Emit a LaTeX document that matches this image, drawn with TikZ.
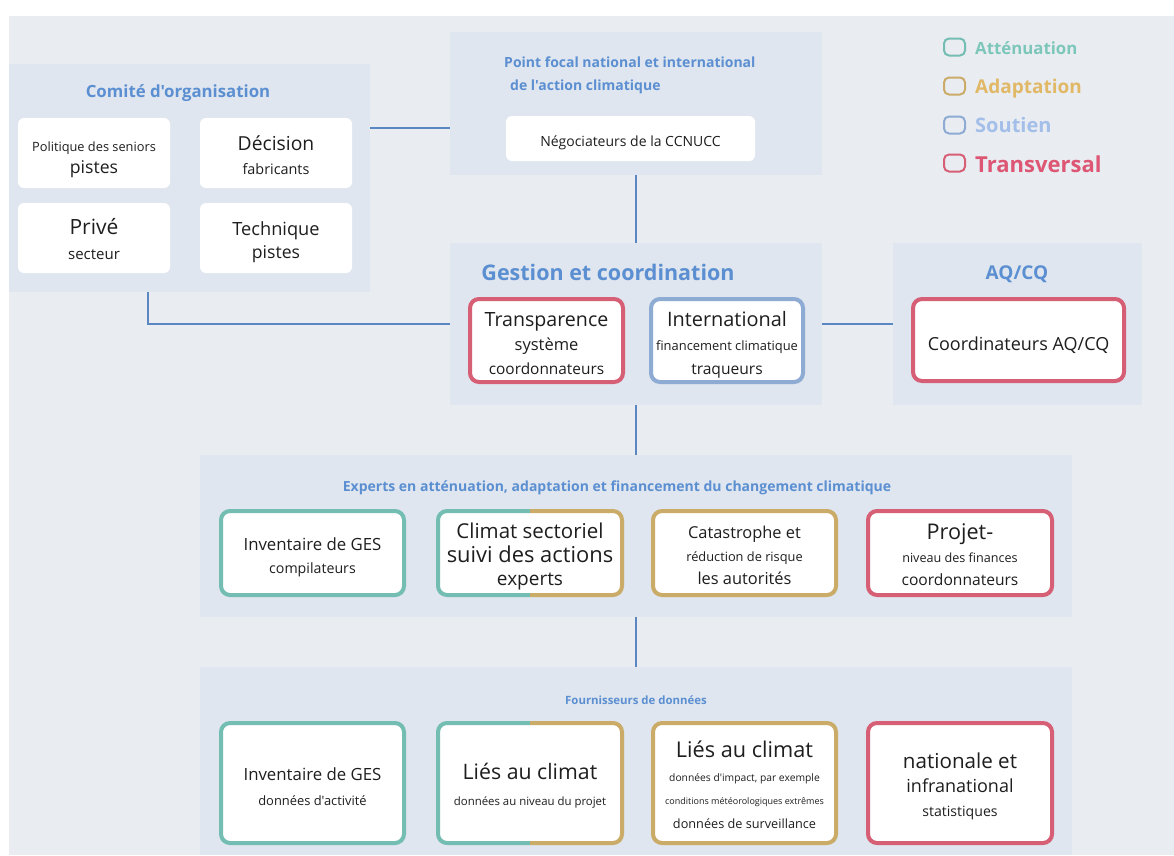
\documentclass[tikz,border=0pt]{standalone}
\usepackage{fontspec}
\setmainfont{Open Sans}
\newfontfamily\osf{Open Sans}
\usetikzlibrary{calc}
\definecolor{bgout}{HTML}{E9EDF2}
\definecolor{panelc}{HTML}{DFE6EF}
\definecolor{titleblue}{HTML}{5B8FD1}
\definecolor{linec}{HTML}{5A87C2}
\definecolor{cteal}{HTML}{74BDB2}
\definecolor{cgold}{HTML}{CBAB68}
\definecolor{cblue}{HTML}{8EABD3}
\definecolor{cred}{HTML}{D65F76}
\definecolor{lteal}{HTML}{7DC6BA}
\definecolor{lgold}{HTML}{E1B866}
\definecolor{lblue}{HTML}{A3BFE9}
\definecolor{lred}{HTML}{DD5673}
\definecolor{textc}{HTML}{1E1E1E}
\newcommand\txs[2]{{\fontsize{#1}{#1}\selectfont #2}}
\tikzset{
  panel/.style={fill=panelc, draw=none, inner sep=0pt, outer sep=0pt, rectangle},
  ptitle/.style={text=titleblue, font=\bfseries, inner sep=0pt},
  wbox/.style={fill=white, rounded corners=6pt, inner sep=0pt, outer sep=0pt},
  bbox/.style={wbox, line width=4pt, rounded corners=9pt},
  btxt/.style={align=center, text=textc, inner sep=0pt, font=\fontsize{12}{24}\selectfont},
  conn/.style={draw=linec, line width=2pt},
  legsq/.style={draw=#1, line width=2pt, rounded corners=5pt, minimum width=21pt, minimum height=17pt, inner sep=0pt},
  legtx/.style={text=#1, font=\bfseries, anchor=west, inner sep=0pt},
}
\begin{document}
\osf
\begin{tikzpicture}[x=1pt,y=-1pt]
\useasboundingbox (0,0) rectangle (1174,855);
\fill[white] (0,0) rectangle (1174,855);
\fill[bgout] (9,16) rectangle (1174,855);

% panels
\node[panel, minimum width=361pt, minimum height=228pt] (comite) at (189.5,178) {};
\node[panel, minimum width=372pt, minimum height=143pt] (focal) at (636,103.5) {};
\node[panel, minimum width=372pt, minimum height=162pt] (gestion) at (636,324) {};
\node[panel, minimum width=249pt, minimum height=162pt] (aqcq) at (1017.5,324) {};
\node[panel, minimum width=872pt, minimum height=162pt] (experts) at (636,536) {};
\node[panel, minimum width=872pt, minimum height=188pt] (fourn) at (636,761) {};

% connectors
\draw[conn] (comite.east |- 0,128) -- (focal.west |- 0,128);
\draw[conn] (focal.south) -- (gestion.north);
\draw[conn] (comite.south -| 148,0) |- (gestion.west);
\draw[conn] (gestion.east) -- (aqcq.west);
\draw[conn] (gestion.south) -- (experts.north);
\draw[conn] (experts.south) -- (fourn.north);

% titles
\node[ptitle, font=\bfseries\fontsize{16.8}{19}\selectfont] (tcomite) at (178,93) {Comité d'organisation};
\node[ptitle, anchor=west, align=left, font=\bfseries\fontsize{14}{23}\selectfont] (tfocal) at (504,75) {Point focal national et international\\\hspace{6pt}de l'action climatique};
\node[ptitle, font=\bfseries\fontsize{21.5}{24}\selectfont] (tgestion) at (608,272) {Gestion et coordination};
\node[ptitle, font=\bfseries\fontsize{19}{21}\selectfont] (taqcq) at (1017,274) {AQ/CQ};
\node[ptitle, font=\bfseries\fontsize{14}{17}\selectfont] (texperts) at (617,488) {Experts en atténuation, adaptation et financement du changement climatique};
\node[ptitle, font=\bfseries\fontsize{11.4}{13}\selectfont] (tfourn) at (636,700) {Fournisseurs de données};

% committee boxes
\node[wbox, minimum width=152pt, minimum height=70pt] (pol) at (94,153) {};
\node[wbox, minimum width=152pt, minimum height=70pt] (dec) at (276,153) {};
\node[wbox, minimum width=152pt, minimum height=70pt] (pri) at (94,238) {};
\node[wbox, minimum width=152pt, minimum height=70pt] (tec) at (276,238) {};
\node[btxt, font=\fontsize{12}{22}\selectfont] (pol-t) at ($(pol)+(0,7)$) {\txs{12.8}{Politique des seniors}\\\txs{17.6}{pistes}};
\node[btxt] (dec-t) at ($(dec)+(0,2.5)$) {\txs{19.3}{Décision}\\\txs{14.4}{fabricants}};
\node[btxt, font=\fontsize{12}{25}\selectfont] (pri-t) at ($(pri)+(0,1)$) {\txs{21}{Privé}\\\txs{15}{secteur}};
\node[btxt, font=\fontsize{12}{23}\selectfont] (tec-t) at ($(tec)+(0,4.5)$) {\txs{18.2}{Technique}\\\txs{17.6}{pistes}};

\node[wbox, minimum width=249pt, minimum height=45pt] (nego) at (630.5,138.5) {};
\node[btxt] (nego-t) at ($(nego)+(0,4)$) {\txs{14}{Négociateurs de la CCNUCC}};

% gestion boxes
\node[bbox, draw=cred, minimum width=153pt, minimum height=83pt] (transp) at (546.5,340.5) {};
\node[bbox, draw=cblue, minimum width=152pt, minimum height=83pt] (intl) at (727,340.5) {};
\node[bbox, draw=cred, minimum width=211pt, minimum height=82pt] (coord) at (1018.5,340) {};
\node[btxt] (transp-t) at ($(transp)+(0,3)$) {\txs{19.6}{Transparence}\\\txs{16.5}{système}\\\txs{15.4}{coordonnateurs}};
\node[btxt] (intl-t) at ($(intl)+(0,4)$) {\txs{19.9}{International}\\\txs{12.9}{financement climatique}\\\txs{15.6}{traqueurs}};
\node[btxt] (coord-t) at ($(coord)+(0,5)$) {\txs{18}{Coordinateurs AQ/CQ}};

% experts boxes
\node[bbox, draw=cteal, minimum width=183pt, minimum height=84pt] (ges1) at (312.5,553) {};
\node[wbox, minimum width=184pt, minimum height=84pt] (sect) at (530,553) {};
\node[bbox, draw=cgold, minimum width=183pt, minimum height=84pt] (cata) at (744.5,553) {};
\node[bbox, draw=cred, minimum width=184pt, minimum height=84pt] (proj) at (960,553) {};
\node[btxt, font=\fontsize{12}{23}\selectfont] (ges1-t) at ($(ges1)+(0,4)$) {\txs{16.8}{Inventaire de GES}\\\txs{14.2}{compilateurs}};
\node[btxt, font=\fontsize{12}{23.5}\selectfont] (sect-t) at ($(sect)+(0,3.5)$) {\txs{20.5}{Climat sectoriel}\\\txs{21.9}{suivi des actions}\\\txs{19}{experts}};
\node[btxt, font=\fontsize{12}{23}\selectfont] (cata-t) at ($(cata)+(0,2)$) {\txs{16.4}{Catastrophe et}\\\txs{12.8}{réduction de risque}\\\txs{16.4}{les autorités}};
\node[btxt, font=\fontsize{12}{23}\selectfont] (proj-t) at ($(proj)+(0,1.5)$) {\txs{21.6}{Projet-}\\\txs{12.6}{niveau des finances}\\\txs{15.6}{coordonnateurs}};

% data boxes
\node[bbox, draw=cteal, minimum width=183pt, minimum height=120pt] (ges2) at (312.5,783) {};
\node[wbox, minimum width=184pt, minimum height=120pt] (lies1) at (530,783) {};
\node[bbox, draw=cgold, minimum width=183pt, minimum height=120pt] (lies2) at (744.5,783) {};
\node[bbox, draw=cred, minimum width=184pt, minimum height=120pt] (nat) at (960,783) {};
\node[btxt, font=\fontsize{12}{25}\selectfont] (ges2-t) at ($(ges2)+(0,3.5)$) {\txs{16.8}{Inventaire de GES}\\\txs{12.9}{données d'activité}};
\node[btxt, font=\fontsize{12}{26}\selectfont] (lies1-t) at ($(lies1)+(0,3)$) {\txs{21.3}{Liés au climat}\\\txs{11.4}{données au niveau du projet}};
\node[btxt, font=\fontsize{12}{23.5}\selectfont] (lies2-t) at ($(lies2)+(0,1.5)$) {\txs{21.7}{Liés au climat}\\\txs{10.3}{données d'impact, par exemple}\\\txs{9}{conditions météorologiques extrêmes}\\\txs{12.7}{données de surveillance}};
\node[btxt, font=\fontsize{12}{24}\selectfont] (nat-t) at ($(nat)+(0,3)$) {\txs{20.6}{nationale et}\\\txs{18}{infranational}\\\txs{14.1}{statistiques}};

% two-colour borders
\foreach \b in {sect,lies1}{
  \begin{scope}
    \clip ($(\b.north west)+(-6,-6)$) rectangle ($(\b.south)+(0,6)$);
    \draw[cteal, line width=4pt, rounded corners=9pt] (\b.north west) rectangle (\b.south east);
  \end{scope}
  \begin{scope}
    \clip ($(\b.north)+(0,-6)$) rectangle ($(\b.south east)+(6,6)$);
    \draw[cgold, line width=4pt, rounded corners=9pt] (\b.north west) rectangle (\b.south east);
  \end{scope}
}

% legend
\node[legsq=cteal] (sq1) at (954.5,47) {};
\node[legsq=cgold] (sq2) at (954.5,86) {};
\node[legsq=cblue] (sq3) at (954.5,125) {};
\node[legsq=cred] (sq4) at (954.5,163) {};
\node[legtx=lteal, font=\bfseries\fontsize{16.8}{18}\selectfont] (lg1) at (975,48) {Atténuation};
\node[legtx=lgold, font=\bfseries\fontsize{19}{21}\selectfont] (lg2) at (975,89) {Adaptation};
\node[legtx=lblue, font=\bfseries\fontsize{20}{22}\selectfont] (lg3) at (975,125) {Soutien};
\node[legtx=lred, font=\bfseries\fontsize{22}{24}\selectfont] (lg4) at (975,164) {Transversal};
\end{tikzpicture}
\end{document}
